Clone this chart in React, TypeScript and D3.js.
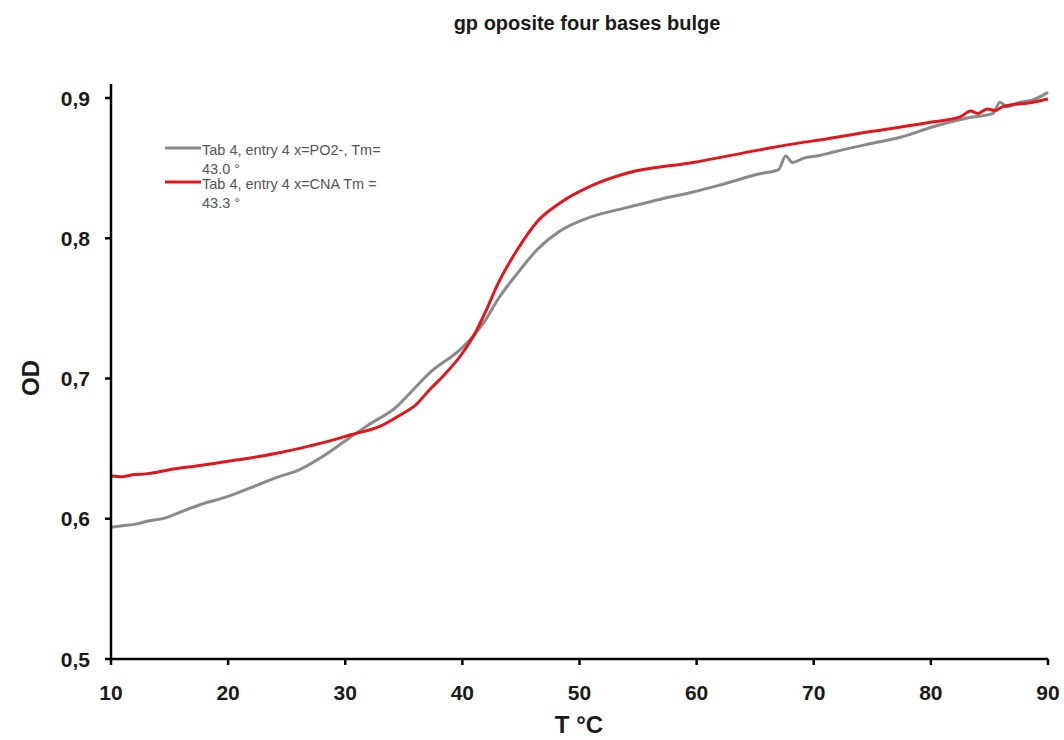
import React from "react";
import * as d3 from "d3";

const title = "gp oposite four bases bulge";
const xLabel = "T °C";
const yLabel = "OD";
const xTicks = [10, 20, 30, 40, 50, 60, 70, 80, 90];
const yTicks = [0.5, 0.6, 0.7, 0.8, 0.9];

const grayT = [10, 11, 12, 13, 14.8, 16, 17.6, 20, 21.9, 24, 26.1, 28, 30.4, 32, 34.4, 35.8, 37.2, 40, 41, 42, 43, 44.7, 46.4, 48.3, 50.9, 54.1, 57, 59.7, 62, 65.4, 67, 67.6, 68.2, 69.1, 70.5, 71.7, 74.6, 77.4, 80.2, 83.1, 85.3, 85.9, 86.5, 87.4, 88.7, 90];
const grayOD = [0.594, 0.595, 0.596, 0.598, 0.601, 0.605, 0.61, 0.616, 0.622, 0.629, 0.635, 0.644, 0.658, 0.667, 0.68, 0.692, 0.704, 0.722, 0.731, 0.742, 0.756, 0.775, 0.792, 0.805, 0.815, 0.822, 0.828, 0.833, 0.838, 0.846, 0.849, 0.8586, 0.854, 0.857, 0.859, 0.8615, 0.867, 0.872, 0.8795, 0.8857, 0.889, 0.897, 0.8937, 0.8965, 0.8986, 0.904];

const redT = [10, 11, 12, 13, 15, 17.6, 20, 22, 24.7, 27, 28.7, 30.4, 33, 34.7, 36, 37.2, 38.5, 40, 41, 42, 43, 44.7, 46.4, 48.3, 50.9, 54.1, 59.7, 65.4, 68.8, 70.5, 74.6, 80.2, 82.5, 83.4, 84, 84.8, 85.5, 86.1, 88.7, 90];
const redOD = [0.6305, 0.63, 0.6315, 0.632, 0.635, 0.638, 0.641, 0.6435, 0.6476, 0.652, 0.6555, 0.6597, 0.666, 0.674, 0.681, 0.692, 0.703, 0.718, 0.731, 0.748, 0.767, 0.792, 0.812, 0.825, 0.837, 0.8465, 0.854, 0.863, 0.868, 0.87, 0.8757, 0.883, 0.8865, 0.8907, 0.889, 0.8922, 0.891, 0.8937, 0.897, 0.8993];

const legend = [
  { lines: ["Tab 4, entry 4 x=PO2-, Tm=", "43.0 °"], color: "#8a8a8a" },
  { lines: ["Tab 4, entry 4 x=CNA Tm =", "43.3 °"], color: "#e3161c" },
];

export default function App() {
  const W = 1064, H = 740;
  const x = d3.scaleLinear().domain([10, 90]).range([111, 1048]);
  const y = d3.scaleLinear().domain([0.5, 0.9]).range([659, 98]);
  const line = d3.line<[number, number]>().x(d => x(d[0])).y(d => y(d[1])).curve(d3.curveMonotoneX);
  const gray = grayT.map((t, i) => [t, grayOD[i]] as [number, number]);
  const red = redT.map((t, i) => [t, redOD[i]] as [number, number]);
  const font = "Liberation Sans, Arial, Helvetica, sans-serif";
  return (
    <svg width={W} height={H} style={{ position: "absolute", left: 0, top: 0, background: "#fff" }} fontFamily={font}>
      <rect width={W} height={H} fill="#fff" />
      <text x={587} y={30} textAnchor="middle" fontSize={20} fontWeight="bold" fill="#1a1a1a">{title}</text>
      <path d={line(gray) || ""} fill="none" stroke="#8a8a8a" strokeWidth={3} strokeLinejoin="round" />
      <path d={line(red) || ""} fill="none" stroke="#e3161c" strokeWidth={3} strokeLinejoin="round" />
      <line x1={x(10)} x2={x(10)} y1={84} y2={y(0.5) + 1} stroke="#000" strokeWidth={2.5} />
      <line x1={x(10) - 1} x2={x(90)} y1={y(0.5)} y2={y(0.5)} stroke="#000" strokeWidth={2.5} />
      {yTicks.map(t => (
        <g key={"y" + t}>
          <line x1={x(10) - 6} x2={x(10)} y1={y(t)} y2={y(t)} stroke="#000" strokeWidth={2.5} />
          <text x={90} y={y(t)} dy="0.36em" textAnchor="end" fontSize={21} fontWeight="bold" fill="#1a1a1a">{t.toFixed(1).replace(".", ",")}</text>
        </g>
      ))}
      {xTicks.map(t => (
        <g key={"x" + t}>
          <line x1={x(t)} x2={x(t)} y1={y(0.5)} y2={y(0.5) + 6} stroke="#000" strokeWidth={2.5} />
          <text x={x(t)} y={700} textAnchor="middle" fontSize={21} fontWeight="bold" fill="#1a1a1a">{t}</text>
        </g>
      ))}
      <text x={579} y={733} textAnchor="middle" fontSize={24} fontWeight="bold" fill="#1a1a1a">{xLabel}</text>
      <text transform="translate(39,378) rotate(-90)" textAnchor="middle" fontSize={24} fontWeight="bold" fill="#1a1a1a">{yLabel}</text>
      {legend.map((l, i) => (
        <g key={"lg" + i}>
          <line x1={165} x2={201} y1={148 + i * 34} y2={148 + i * 34} stroke={l.color} strokeWidth={3} />
          {l.lines.map((s, j) => (
            <text key={j} x={202} y={155 + i * 34 + j * 19} fontSize={14.5} fill="#555">{s}</text>
          ))}
        </g>
      ))}
    </svg>
  );
}
